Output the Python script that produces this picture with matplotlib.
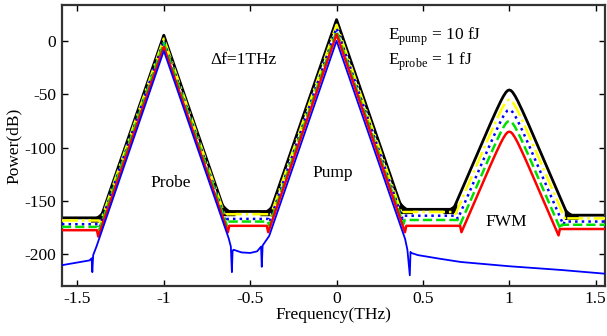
import numpy as np
import matplotlib
matplotlib.use('Agg')
import matplotlib.pyplot as plt

plt.rcParams['font.family'] = ['Liberation Serif', 'DejaVu Serif']
plt.rcParams['mathtext.fontset'] = 'custom'
plt.rcParams['mathtext.rm'] = 'Liberation Serif'
plt.rcParams['axes.unicode_minus'] = False

# DATA
# curves: black, yellow, blue dotted, green, red  (different FWM strengths)
probe_peak = [5.6, 2.5, 0.3, -1.6, -5.3]
pump_peak = [20.3, 15.5, 12.5, 9.6, 6.5]
fwm_peak = [-45.8, -55.0, -64.5, -75.0, -85.0]
floor_left = [-166.0, -168.5, -172.0, -174.5, -177.6]
floor_mid = [-160.0, -162.6, -167.0, -169.5, -173.5]
floor_fwm_l = [-158.0, -160.5, -164.0, -168.0, -173.5]
floor_fwm_r = [-163.5, -166.5, -169.5, -172.5, -176.5]
notch = [0, 2, 3, 4, 6]

# input spectrum (blue solid), breakpoints
blue_x = [-1.59, -1.43, -1.418, -1.414, -1.409, -1.39, -1.0, -0.625, -0.612, -0.606, -0.602, -0.596,
          -0.55, -0.50, -0.46, -0.437, -0.433, -0.428, -0.39, 0.0, 0.397, 0.41, 0.424, 0.428, 0.433,
          0.47, 0.6, 0.72, 1.0, 1.3, 1.59]
blue_y = [-210.5, -206.0, -204.0, -217.0, -201.0, -193.0, -9.0, -185.0, -193.0, -217.0, -197.0, -196.0,
          -198.5, -199.0, -197.5, -193.0, -212.0, -192.0, -183.0, 0.3, -186.0, -196.0, -220.0, -198.0, -199.0,
          -201.0, -204.5, -207.5, -211.5, -215.0, -219.0]

SLOPE = 470.0      # dB/THz on probe / pump flanks
SLOPE_FWM = 380.0  # dB/THz on FWM flanks
ROUND_FWM = 0.03   # rounding of the FWM top (THz)
FWM_STEPS = [0.0, 0.01, 0.02, 0.035, 0.05, 0.075, 0.11]

colors = ['black', '#ffff00', '#0000ff', '#00e000', '#ff0000']
styles = ['-', '-.', ':', '--', '-']
widths = [2.0, 1.8, 1.8, 1.8, 1.8]


def fwm_drop(d):
    return SLOPE_FWM * (np.hypot(d, ROUND_FWM) - ROUND_FWM)


def fwm_width(drop):
    return np.sqrt((drop / SLOPE_FWM + ROUND_FWM) ** 2 - ROUND_FWM ** 2)


def build(i):
    pp, qp, wp = probe_peak[i], pump_peak[i], fwm_peak[i]
    fl, fm, f3, f4, nt = floor_left[i], floor_mid[i], floor_fwm_l[i], floor_fwm_r[i], notch[i]
    pts = [(-1.59, fl)]
    d = (pp - fl + nt) / SLOPE
    pts += [(-1 - d - 0.008, fl), (-1 - d, fl - nt), (-1.006, pp - 2.8), (-1.0, pp), (-0.994, pp - 2.8)]
    d = (pp - fm + nt) / SLOPE
    pts += [(-1 + d, fm - nt), (-1 + d + 0.008, fm)]
    d = (qp - fm + nt) / SLOPE
    pts += [(-d - 0.008, fm), (-d, fm - nt), (-0.006, qp - 2.8), (0.0, qp), (0.006, qp - 2.8)]
    d = (qp - f3 + nt) / SLOPE
    pts += [(d, f3 - nt), (d + 0.008, f3)]
    d = fwm_width(wp - f3 + nt)
    pts += [(1 - d - 0.008, f3), (1 - d, f3 - nt)]
    pts += [(1 - s, wp - fwm_drop(s)) for s in FWM_STEPS[::-1]]
    pts += [(1 + s, wp - fwm_drop(s)) for s in FWM_STEPS[1:]]
    d = fwm_width(wp - f4 + nt)
    pts += [(1 + d, f4 - nt), (1 + d + 0.008, f4), (1.59, f4)]
    x, y = zip(*pts)
    return np.array(x), np.array(y)


fig = plt.figure(figsize=(6.07, 3.36), dpi=100)
ax = fig.add_axes([0.102, 0.149, 0.895, 0.836])

curves = [build(i) for i in range(5)]

# ringing of the strongest case: dark fillets in the spectral corners
bx, by = curves[0]
corners = [(-1 - (probe_peak[0] - floor_left[0]) / SLOPE, floor_left[0], 1),
           (-1 + (probe_peak[0] - floor_mid[0]) / SLOPE, floor_mid[0], -1),
           (-(pump_peak[0] - floor_mid[0]) / SLOPE, floor_mid[0], 1),
           ((pump_peak[0] - floor_fwm_l[0]) / SLOPE, floor_fwm_l[0], -1),
           (1 - fwm_width(fwm_peak[0] - floor_fwm_l[0]), floor_fwm_l[0], 1),
           (1 + fwm_width(fwm_peak[0] - floor_fwm_r[0]), floor_fwm_r[0], -1)]
for c, f, side in corners:
    far, near = c - 0.06 * side, c + 0.02 * side
    xs = np.sort(np.linspace(far, near, 80))
    h = np.interp(near, bx, by) - f
    u = np.abs(xs - far) / 0.08
    up = np.maximum(np.interp(xs, bx, by), f + h * u ** 2)
    lo = np.full_like(xs, f - 4)
    ax.fill_between(xs, up, lo, color='black', lw=0, zorder=1)

for i, (x, y) in enumerate(curves):
    ax.plot(x, y, styles[i], color=colors[i], lw=widths[i], zorder=2 + i)
ax.plot(blue_x, blue_y, '-', color='#0000ff', lw=1.3, zorder=8)

ax.set_xlim(-1.59, 1.555)
ax.set_ylim(-230, 34)
ax.set_xticks([-1.5, -1, -0.5, 0, 0.5, 1, 1.5])
ax.set_xticklabels(['-1.5', '-1', '-0.5', '0', '0.5', '1', '1.5'])
ax.set_yticks([0, -50, -100, -150, -200])
ax.tick_params(direction='in', top=True, right=True, length=4, width=1, labelsize=12.5, pad=4)
for s in ax.spines.values():
    s.set_linewidth(1.6)
    s.set_color('#333333')
ax.set_xlabel('Frequency(THz)', fontsize=12.5, labelpad=0)
ax.set_ylabel('Power(dB)', fontsize=12.5, labelpad=2)

ax.text(-0.96, -133, 'Probe', fontsize=12.5, ha='center', va='center')
ax.text(-0.02, -124, 'Pump', fontsize=12.5, ha='center', va='center')
ax.text(0.98, -170, 'FWM', fontsize=12.5, ha='center', va='center')
ax.text(-0.54, -18, 'Δf=1THz', fontsize=12.5, ha='center', va='center')
ax.text(0.30, 4, r'E$_{\rm pump}$ = 10 fJ', fontsize=12.5, ha='left', va='center')
ax.text(0.30, -19.5, r'E$_{\rm probe}$ = 1 fJ', fontsize=12.5, ha='left', va='center')

fig.savefig('out.png', dpi=100)
